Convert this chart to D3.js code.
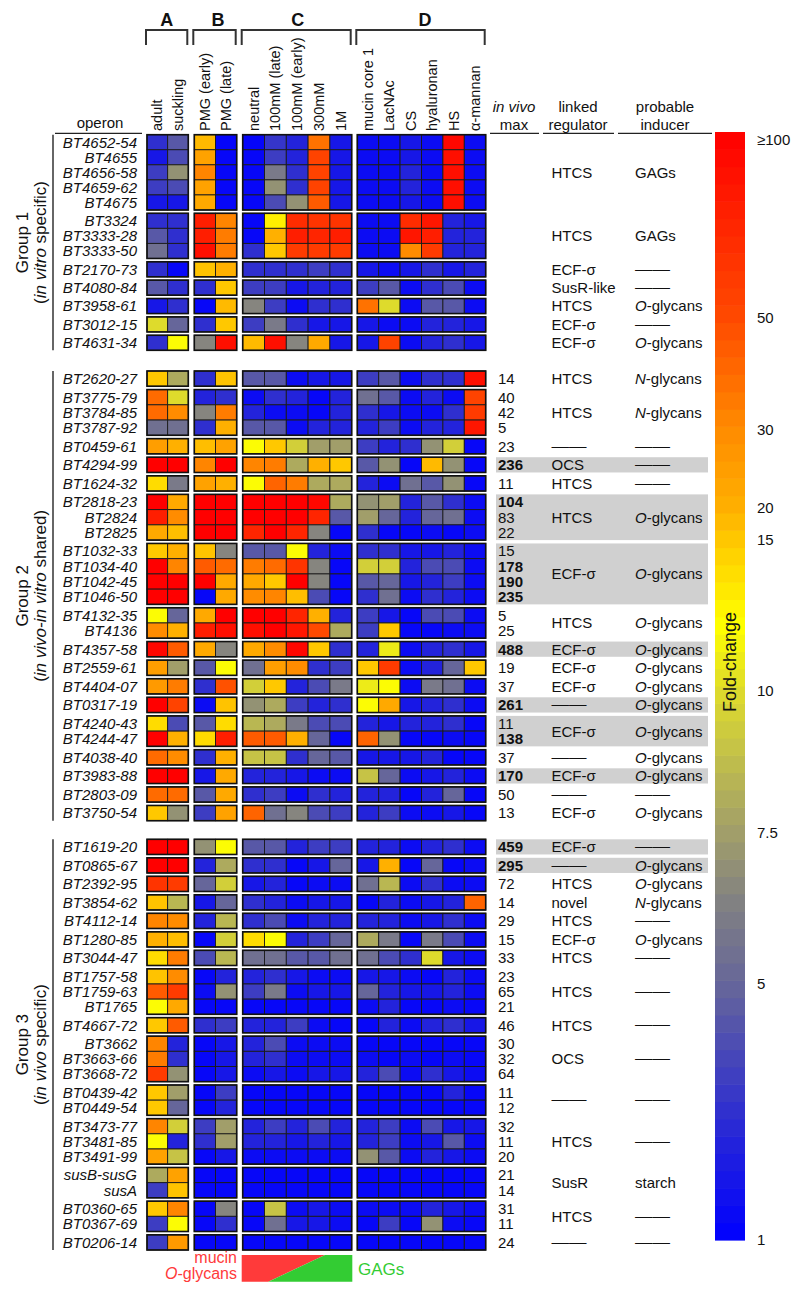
<!DOCTYPE html>
<html><head><meta charset="utf-8">
<script src="https://cdn.jsdelivr.net/npm/d3@7"></script>
<style>body{margin:0;background:#fff} svg{display:block} text{font-family:"Liberation Sans",Arial,Helvetica,sans-serif;fill:#111}</style>
</head><body><svg id="c" width="800" height="1292"></svg>
<script>
// ---------------- DATA ----------------
const blockNames = ["A","B","C","D"];
const columns = ["adult","suckling","PMG (early)","PMG (late)","neutral","100mM (late)","100mM (early)","300mM","1M","mucin core 1","LacNAc","CS","hyaluronan","HS","α-mannan"];
const columnBlock = [0,0,1,1,2,2,2,2,2,3,3,3,3,3,3];

const group1Operons = ["BT4652-54","BT4655","BT4656-58","BT4659-62","BT4675","BT3324","BT3333-28","BT3333-50","BT2170-73","BT4080-84","BT3958-61","BT3012-15","BT4631-34"];
const group1Clusters = [0,0,0,0,0,1,1,1,2,3,4,5,6];
const group1Values = [
 [3,4.5,18,1.2,1.2,3.2,2.5,38,2,1.5,1.5,2,1.5,95,1.5],
 [2,4,24,1.3,1.3,3.5,2.5,55,2,1.5,1.5,2,1.5,90,1.5],
 [3.5,7,32,1.3,1.3,6,3,55,2,1.5,1.5,2.5,1.5,90,1.5],
 [3.5,4,24,1.3,1.3,7,3,55,2,1.5,1.5,2.5,1.5,90,1.5],
 [2,2,22,1.3,1.3,4,7,45,2,1.5,1.5,2,1.5,90,1.5],
 [3,3,80,32,1.3,13,70,65,65,1.5,1.5,70,85,2.5,2],
 [4.5,3,80,35,1.3,20,80,75,80,1.5,1.5,85,80,2.5,2.5],
 [5.5,3,90,35,3,15,60,60,60,1.5,1.5,30,60,2.5,2.5],
 [3,1.3,16,20,3,3,3,3.5,3,2,1.5,2,3,2,2.5],
 [4.5,3,3,15,3.5,3.5,2,2.5,2.5,3.5,4.5,1.5,3,4,1.5],
 [2,3,1.3,18,6.5,3.5,1.5,3,3,38,10,1.5,4.5,4.5,1.5],
 [10,5,3,15,3.5,6,3,2,2,2,1.5,1.5,2.5,2.5,2],
 [3,12,6.5,90,18,90,6.5,22,2,2,55,1.5,2.5,3,2]
];
const group1Max = [null,null,null,null,null,null,null,null,null,null,null,null,null];
const group1Regulators = ["HTCS","HTCS","ECF-σ","SusR-like","HTCS","ECF-σ","ECF-σ"];
const group1Inducers = ["GAGs","GAGs","—","—","O-glycans","—","O-glycans"];

const group2Operons = ["BT2620-27","BT3775-79","BT3784-85","BT3787-92","BT0459-61","BT4294-99","BT1624-32","BT2818-23","BT2824","BT2825","BT1032-33","BT1034-40","BT1042-45","BT1046-50","BT4132-35","BT4136","BT4357-58","BT2559-61","BT4404-07","BT0317-19","BT4240-43","BT4244-47","BT4038-40","BT3983-88","BT2803-09","BT3750-54"];
const group2Clusters = [0,1,1,1,2,3,4,5,5,5,6,6,6,6,7,7,8,9,10,11,12,12,13,14,15,16];
const group2Values = [
 [15,8,3,16,4.5,4.5,1.5,2,2,3.5,4.5,1.5,3,3,90],
 [40,10,2.5,3,1.5,3,2.5,1.3,2.5,5.5,4.5,1.5,2.5,1.5,55],
 [40,30,6.5,35,2.5,1.5,1.5,1.3,2.5,3,2,1.5,1.5,3,60],
 [5.5,5.5,3,20,4.5,4.5,1.5,2.5,2.5,2.5,3.5,1.5,2.5,2.5,85],
 [25,20,17,24,12,15,9.5,7.5,7.5,3.5,2.5,3,7,9.5,1.3],
 [100,100,32,100,32,35,8,20,15,4.5,7,1.3,18,7,1.3],
 [14,6,24,20,12,42,35,8,8,2.5,1.5,5.5,4.5,7,1.3],
 [100,22,100,100,100,100,100,95,8,7,7.5,2.5,4.5,3,1.5],
 [80,30,100,100,100,100,100,75,4.5,7.5,5,2.5,5,5.5,1.5],
 [22,17,100,100,75,100,75,6.5,1.3,3,1.3,1.3,1.5,1.3,1.5],
 [15,20,16,6.5,4.5,4.5,12,2.5,1.5,3,3,2,2,2.5,1.5],
 [100,32,45,40,35,40,65,6.5,1.3,9.5,9.5,2.5,4,4,1.5],
 [100,100,100,22,22,15,100,6.5,1.3,4.5,5,2,2.5,3.5,1.5],
 [100,100,1.3,22,30,32,17,4,1.3,3,5.5,1.5,3,2.5,1.5],
 [12,5,22,100,100,100,75,20,2.5,3.5,2,1.3,4,4,1.5],
 [30,20,80,90,90,100,85,50,8,3.5,15,1.3,1.3,1.5,1.5],
 [95,45,22,6.5,22,30,95,15,3,2.5,11,1.5,2.5,3,2],
 [25,7.5,4.5,12,5.5,25,30,3,3.5,15,60,1.5,2.5,5,15],
 [26,35,3,48,9.5,15,2.5,4,6,11,12,1.5,6,5.5,1.5],
 [100,55,1.5,16,7,8,3.5,2.5,3,12,22,2,2.5,3,1.5],
 [14,4,4.5,14,8.5,8,6,4,4,2.5,2,2.5,2.5,3,1.3],
 [100,20,14,80,45,45,20,5,1.3,42,7,1.3,1.3,1.5,1.3],
 [40,30,3,20,9,9,3,5,4.5,2,2,2,2.5,1.3,1.3],
 [100,100,2,22,2.5,2.5,2,1.5,1.5,9,5,1.5,2,2.5,1.5],
 [40,40,4.5,22,3,3.5,1.5,3,2.5,2.5,2.5,1.3,2.5,5,1.3],
 [15,7,3.5,24,42,5.5,6.5,4,3.5,2.5,3.5,1.5,1.5,2,1.3]
];
const group2Max = [14,40,42,5,23,236,11,104,83,22,15,178,190,235,5,25,488,19,37,261,11,138,37,170,50,13];
const group2Regulators = ["HTCS","HTCS","—","OCS","HTCS","HTCS","ECF-σ","HTCS","ECF-σ","ECF-σ","ECF-σ","—","ECF-σ","—","ECF-σ","—","ECF-σ"];
const group2Inducers = ["N-glycans","N-glycans","—","—","—","O-glycans","O-glycans","O-glycans","O-glycans","O-glycans","O-glycans","O-glycans","O-glycans","O-glycans","O-glycans","—","O-glycans"];

const group3Operons = ["BT1619-20","BT0865-67","BT2392-95","BT3854-62","BT4112-14","BT1280-85","BT3044-47","BT1757-58","BT1759-63","BT1765","BT4667-72","BT3662","BT3663-66","BT3668-72","BT0439-42","BT0449-54","BT3473-77","BT3481-85","BT3491-99","susB-susG","susA","BT0360-65","BT0367-69","BT0206-14"];
const group3Clusters = [0,1,2,3,4,5,6,7,7,7,8,9,9,9,10,10,11,11,11,12,12,13,13,14];
const group3Values = [
 [100,100,7,12,4.5,4.5,2.5,3.5,3.5,2.5,2.5,1.5,2.5,3,1.5],
 [100,100,2.5,8,3,3,1.3,2,5,2,20,1.3,5,1.3,1.5],
 [65,60,5,9.5,2,2.5,1.3,1.5,1.5,5.5,8.5,1.5,3,1.5,1.5],
 [16,8.5,2,5,3,2.5,1.5,2,2,1.3,2.5,1.5,2,2.5,42],
 [32,30,2.5,8.5,3,4,1.5,2.5,2.5,2.5,2.5,1.5,2,3,1.5],
 [20,17,1.3,9.5,14,12,2.5,3.5,5,8,6,1.3,6,4,1.5],
 [14,35,4,8.5,5.5,5.5,4.5,4.5,5.5,5.5,4,3,10,2,1.5],
 [16,30,1.3,2.5,2.5,3,2,1.5,1.5,2,2,1.5,1.3,2.5,1.5],
 [45,60,1.5,7,3.5,6,1.5,2,2,5,2.5,2,2,2.5,1.5],
 [12,22,1.3,1.3,1.3,1.3,1.3,1.3,1.3,1.5,2.5,1.3,1.3,1.5,1.3],
 [15,45,3,3.5,2.5,2.5,3.5,1.5,1.3,1.3,2.5,1.5,2.5,3,2],
 [32,2.5,1.3,2,2.5,4,1.5,1.5,1.5,1.3,1.3,1.3,1.3,1.3,1.3],
 [35,3,1.3,2,2.5,3,1.5,1.5,1.5,1.5,1.3,1.5,1.3,1.5,1.3],
 [60,7,1.3,2,1.5,2,1.5,2,2,2.5,4,1.5,3,2,1.5],
 [15,7.5,1.3,3.5,1.3,1.3,1.3,1.3,1.3,1.3,1.3,1.3,1.3,2.5,1.3],
 [15,5,1.3,2.5,1.3,1.3,1.3,1.3,1.3,1.3,1.3,1.3,1.3,1.3,1.3],
 [32,9.5,3.5,7.5,2.5,3.5,2.5,4,2.5,2.5,3.5,1.5,4,2,2],
 [12,2.5,3,7.5,2.5,2.5,2,2.5,2,2.5,3.5,1.5,2,4.5,1.5],
 [24,9,1.3,2,1.5,1.5,1.5,1.5,1.5,7,4.5,1.5,2.5,2,1.5],
 [8,24,1.3,1.3,1.3,1.3,1.3,1.3,1.3,1.3,1.3,1.3,1.3,1.3,1.3],
 [3.5,16,1.3,1.3,1.3,1.3,1.3,1.3,1.3,1.3,1.3,1.3,1.3,1.3,1.3],
 [15,32,1.3,6.5,1.3,9,1.5,2,1.5,1.5,1.5,1.5,2.5,2,1.5],
 [3.5,12,1.3,3,1.3,5.5,2,2,1.5,1.3,3.5,1.3,7,1.5,1.3],
 [3.5,26,1.3,1.3,1.3,1.3,1.3,1.3,1.3,1.3,1.3,1.3,1.3,1.3,1.3]
];
const group3Max = [459,295,72,14,29,15,33,23,65,21,46,30,32,64,11,12,32,11,20,21,14,31,11,24];
const group3Regulators = ["ECF-σ","—","HTCS","novel","HTCS","ECF-σ","HTCS","HTCS","HTCS","OCS","—","HTCS","SusR","HTCS","—"];
const group3Inducers = ["—","O-glycans","O-glycans","N-glycans","—","O-glycans","—","—","—","—","—","—","starch","—","—"];

const colorbarTicks = [100,50,30,20,15,10,7.5,5,1];
const colorbarTickLabels = ["≥100","50","30","20","15","10","7.5","5","1"];

// ---------------- LAYOUT / SCALES ----------------
const svg = d3.select("#c");
const foldPos = d3.scaleLinear()
  .domain([1,5,7.5,10,15,20,30,50,100])
  .range([0,0.231,0.368,0.496,0.632,0.661,0.731,0.832,1]).clamp(true);
const tColor = d3.scaleLinear()
  .domain([0,0.1,0.231,0.30,0.368,0.45,0.496,0.556,0.632,0.661,0.731,0.832,1])
  .range(["#0000ff","#2828d6","#66669a","#7f7f84","#a19e6a","#c8c644","#dedb2c","#ffff00","#ffc800","#ffb000","#ff8c00","#ff4a00","#ff0000"])
  .interpolate(d3.interpolateRgb);
const color = v => tColor(foldPos(v));

const blockExtents = [[147,188.3],[194.3,236.7],[242.7,351.7],[357.3,485.7]];
const blockCols = blockNames.map((b,i)=>columns.filter((c,j)=>columnBlock[j]===i));
const xScales = blockCols.map((cols,i)=>d3.scaleBand().domain(cols).range(blockExtents[i]));
const colX = j => xScales[columnBlock[j]](columns[j]);
const colW = j => xScales[columnBlock[j]].bandwidth();

const groups = [
 {name:"Group 1", sub:["in vitro"," specific)"], operons:group1Operons, clusters:group1Clusters, values:group1Values, max:group1Max, regs:group1Regulators, inds:group1Inducers, span:[134.7,350.3]},
 {name:"Group 2", sub:["in vivo-in vitro"," shared)"], operons:group2Operons, clusters:group2Clusters, values:group2Values, max:group2Max, regs:group2Regulators, inds:group2Inducers, span:[371,820.7]},
 {name:"Group 3", sub:["in vivo"," specific)"], operons:group3Operons, clusters:group3Clusters, values:group3Values, max:group3Max, regs:group3Regulators, inds:group3Inducers, span:[839.3,1250]}
];
const GAP = 0.22;

// ---------------- HEADER ----------------
const hdr = svg.append("g");
blockNames.forEach((b,i)=>{
  const [x0,x1] = blockExtents[i];
  hdr.append("path").attr("d",`M${x0-1},45V30H${x1-1}V45`).attr("fill","none").attr("stroke","#333").attr("stroke-width",2);
  hdr.append("text").attr("x",[166.7,218,297.7,425][i]).attr("y",26).attr("text-anchor","middle")
    .attr("font-size",18).attr("font-weight","bold").text(b);
});
columns.forEach((c,j)=>{
  const cx = colX(j)+colW(j)/2;
  hdr.append("text").attr("transform",`translate(${cx+5},131) rotate(-90)`).attr("font-size",14.5).text(c);
});
hdr.append("text").attr("x",100).attr("y",128).attr("text-anchor","middle").attr("font-size",15).text("operon");
hdr.append("line").attr("x1",55).attr("x2",142).attr("y1",133.3).attr("y2",133.3).attr("stroke","#222").attr("stroke-width",1.3);
[[490,539],[543,614],[618,712]].forEach(([a,b])=>hdr.append("line").attr("x1",a).attr("x2",b).attr("y1",133.3).attr("y2",133.3).attr("stroke","#222").attr("stroke-width",1.3));
hdr.append("text").attr("x",514).attr("y",112).attr("text-anchor","middle").attr("font-size",15).attr("font-style","italic").text("in vivo");
hdr.append("text").attr("x",514).attr("y",130).attr("text-anchor","middle").attr("font-size",15).text("max");
hdr.append("text").attr("x",578).attr("y",112).attr("text-anchor","middle").attr("font-size",15).text("linked");
hdr.append("text").attr("x",578).attr("y",130).attr("text-anchor","middle").attr("font-size",15).text("regulator");
hdr.append("text").attr("x",665).attr("y",112).attr("text-anchor","middle").attr("font-size",15).text("probable");
hdr.append("text").attr("x",665).attr("y",130).attr("text-anchor","middle").attr("font-size",15).text("inducer");

// ---------------- GROUPS ----------------
function inducerText(sel, s){
  const m = s.match(/^([ON])(-glycans)$/);
  if(m){ sel.append("tspan").attr("font-style","italic").text(m[1]); sel.append("tspan").text(m[2]); }
  else sel.text(s);
}
function dash(g,x,y){
  g.append("text").attr("x",x).attr("y",y).attr("dy","0.35em").attr("font-size",15)
   .attr("textLength",35).attr("lengthAdjust","spacingAndGlyphs").text("——");
}

groups.forEach(g=>{
  const nC = d3.max(g.clusters)+1;
  const total = g.operons.length + (nC-1)*GAP;
  const y = d3.scaleLinear().domain([0,total]).range(g.span);
  const rowTop = g.operons.map((o,i)=>y(i+g.clusters[i]*GAP));
  const rowH = y(1)-y(0);
  const gg = svg.append("g");
  const clusters = d3.range(nC).map(k=>{
    const idx = g.clusters.map((c,i)=>c===k?i:-1).filter(i=>i>=0);
    const top = rowTop[idx[0]], bot = rowTop[idx[idx.length-1]]+rowH;
    return {k, idx, top, bot, mid:(top+bot)/2, gray: idx.some(i=>g.max[i]!=null && g.max[i]>100)};
  });
  // gray backgrounds
  clusters.filter(c=>c.gray).forEach(c=>{
    gg.append("rect").attr("x",496).attr("y",c.top).attr("width",212).attr("height",c.bot-c.top).attr("fill","#d0d0d0");
  });
  // cells
  g.values.forEach((row,i)=>{
    row.forEach((v,j)=>{
      gg.append("rect").attr("x",colX(j)).attr("y",rowTop[i]).attr("width",colW(j)).attr("height",rowH)
        .attr("fill",color(v)).attr("stroke","#1a1a1a").attr("stroke-width",0.9);
    });
  });
  // cluster boxes
  clusters.forEach(c=>{
    blockExtents.forEach(([x0,x1])=>{
      gg.append("rect").attr("x",x0).attr("y",c.top).attr("width",x1-x0).attr("height",c.bot-c.top)
        .attr("fill","none").attr("stroke","#111").attr("stroke-width",1.6);
    });
  });
  // row labels
  g.operons.forEach((o,i)=>{
    gg.append("text").attr("x",137).attr("y",rowTop[i]+rowH/2).attr("dy","0.36em").attr("text-anchor","end")
      .attr("font-size",15).attr("font-style","italic").text(o);
    if(g.max[i]!=null){
      gg.append("text").attr("x",498).attr("y",rowTop[i]+rowH/2).attr("dy","0.36em").attr("font-size",15)
        .attr("font-weight",g.max[i]>100?"bold":"normal").text(g.max[i]);
    }
  });
  // regulators / inducers
  clusters.forEach(c=>{
    const r = g.regs[c.k], d = g.inds[c.k];
    if(r==="—") dash(gg,551.5,c.mid-1); else gg.append("text").attr("x",551.5).attr("y",c.mid).attr("dy","0.36em").attr("font-size",15).text(r);
    if(d==="—") dash(gg,635,c.mid-1); else inducerText(gg.append("text").attr("x",635).attr("y",c.mid).attr("dy","0.36em").attr("font-size",15), d);
  });
  // group bracket line and labels
  gg.append("line").attr("x1",53).attr("x2",53).attr("y1",g.span[0]).attr("y2",g.span[1]).attr("stroke","#333").attr("stroke-width",1.5);
  const cy = (g.span[0]+g.span[1])/2;
  gg.append("text").attr("transform",`translate(28,${cy}) rotate(-90)`).attr("text-anchor","middle").attr("font-size",17).text(g.name);
  const st = gg.append("text").attr("transform",`translate(46,${cy}) rotate(-90)`).attr("text-anchor","middle").attr("font-size",17);
  st.append("tspan").text("(");
  st.append("tspan").attr("font-style","italic").text(g.sub[0]);
  st.append("tspan").text(g.sub[1]);
});

// ---------------- COLORBAR ----------------
const cbTop=132, cbBot=1240, cbX=715, cbW=30;
const cbY = d3.scaleLinear().domain([0,1]).range([cbBot,cbTop]);
const nBands = 64;
const cb = svg.append("g");
d3.range(nBands).forEach(k=>{
  const t0=k/nBands, t1=(k+1)/nBands;
  cb.append("rect").attr("x",cbX).attr("y",cbY(t1)).attr("width",cbW).attr("height",cbY(t0)-cbY(t1)+0.6)
    .attr("fill",tColor((t0+t1)/2));
});
colorbarTicks.forEach((v,i)=>{
  const yy = Math.min(Math.max(cbY(foldPos(v)),140),1247);
  cb.append("text").attr("x",757).attr("y",yy).attr("dy","0.35em").attr("font-size",15).text(colorbarTickLabels[i]);
});
cb.append("text").attr("transform",`translate(${cbX+cbW/2+6},662) rotate(-90)`).attr("text-anchor","middle")
  .attr("font-size",18).text("Fold-change");

// ---------------- BOTTOM LEGEND ----------------
const lg = svg.append("g");
lg.append("polygon").attr("points","241.7,1255 325,1255 268.3,1281.7 241.7,1281.7").attr("fill","#ff3a3a");
lg.append("polygon").attr("points","325,1255 352.3,1255 352.3,1281.7 268.3,1281.7").attr("fill","#33cc33");
lg.append("text").attr("x",237).attr("y",1263).attr("text-anchor","end").attr("font-size",16).style("fill","#ff3a3a").text("mucin");
const og = lg.append("text").attr("x",237).attr("y",1279).attr("text-anchor","end").attr("font-size",16).style("fill","#ff3a3a");
og.append("tspan").attr("font-style","italic").text("O");
og.append("tspan").text("-glycans");
lg.append("text").attr("x",358).attr("y",1275).attr("font-size",17).style("fill","#33cc33").text("GAGs");
</script>
</body></html>
